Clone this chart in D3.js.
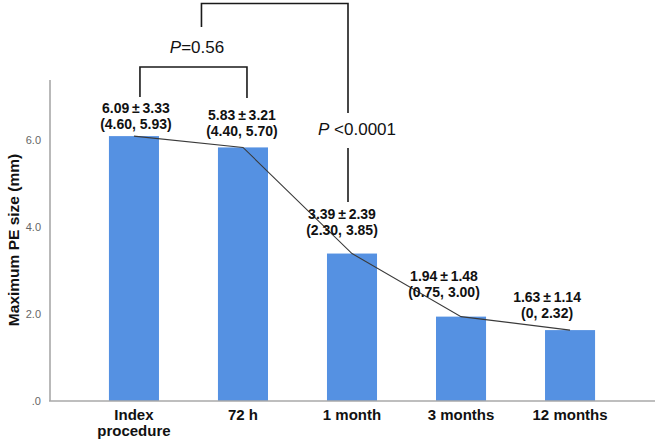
<!DOCTYPE html>
<html>
<head>
<meta charset="utf-8">
<script src="https://cdn.jsdelivr.net/npm/d3@7"></script>
<style>
  html, body { margin: 0; padding: 0; background: #fff; }
  svg { display: block; font-family: "Liberation Sans", Arial, sans-serif; }
</style>
</head>
<body>
<svg id="chart" width="661" height="446"></svg>
<script>
// ---- data ----
const categories = ["Index procedure", "72 h", "1 month", "3 months", "12 months"];
const means = [6.09, 5.83, 3.39, 1.94, 1.63];
const sds = ["3.33", "3.21", "2.39", "1.48", "1.14"];
const meanLabels = ["6.09", "5.83", "3.39", "1.94", "1.63"];
const iqrLabels = ["(4.60, 5.93)", "(4.40, 5.70)", "(2.30, 3.85)", "(0.75, 3.00)", "(0, 2.32)"];
const tickValues = [0, 2, 4, 6];
const tickLabels = [".0", "2.0", "4.0", "6.0"];
const yTitle = "Maximum PE size (mm)";
const pTexts = ["=0.56", "<0.0001"];

// ---- layout ----
const labelDx = [2, -1, -10, -17, -23];
const labelDy = [-23, -27, -35, -36, -28];

const svg = d3.select("#chart");
const x = d3.scaleBand().domain(categories).range([79.5, 624.5]).paddingInner(0.541).paddingOuter(0.27);
const y = d3.scaleLinear().domain([0, 7.38]).range([401, 80]);
const cx = c => x(c) + x.bandwidth() / 2;

// bars
svg.selectAll("rect.bar").data(categories).join("rect")
  .attr("class", "bar")
  .attr("x", d => x(d))
  .attr("width", x.bandwidth())
  .attr("y", (d, i) => y(means[i]))
  .attr("height", (d, i) => y(0) - y(means[i]))
  .attr("fill", "#5591e2");

// axes
svg.append("line").attr("x1", 50).attr("x2", 50).attr("y1", 80).attr("y2", y(0))
  .attr("stroke", "#a8a8a8").attr("stroke-width", 1.6);
svg.append("line").attr("x1", 49).attr("x2", 655).attr("y1", y(0)).attr("y2", y(0))
  .attr("stroke", "#a8a8a8").attr("stroke-width", 1.6);

// y ticks
svg.selectAll("text.ytick").data(tickValues).join("text")
  .attr("class", "ytick")
  .attr("x", 41).attr("y", d => y(d) + 4)
  .attr("text-anchor", "end")
  .attr("font-size", 11).attr("fill", "#666")
  .text((d, i) => tickLabels[i]);

// y title
svg.append("text")
  .attr("transform", "translate(19,240) rotate(-90)")
  .attr("text-anchor", "middle")
  .attr("font-size", 15.5).attr("font-weight", "bold").attr("fill", "#111")
  .text(yTitle);

// x labels
categories.forEach(c => {
  const words = c === "Index procedure" ? ["Index", "procedure"] : [c];
  const t = svg.append("text").attr("text-anchor", "middle")
    .attr("font-size", 15).attr("font-weight", "bold").attr("fill", "#111");
  words.forEach((w, k) => {
    t.append("tspan").attr("x", cx(c)).attr("y", 420 + k * 16).text(w);
  });
});

// trend line
const line = d3.line().x((d, i) => cx(categories[i])).y(d => y(d));
svg.append("path").datum(means).attr("d", line)
  .attr("fill", "none").attr("stroke", "#3a3a3a").attr("stroke-width", 1.1);

// value labels
categories.forEach((c, i) => {
  const lx = cx(c) + labelDx[i];
  const ly = y(means[i]) + labelDy[i];
  const t = svg.append("text").attr("text-anchor", "middle")
    .attr("font-size", 14).attr("font-weight", "bold").attr("fill", "#111");
  t.append("tspan").attr("x", lx).attr("y", ly).text(meanLabels[i] + "\u2009\u00b1\u2009" + sds[i]);
  t.append("tspan").attr("x", lx).attr("y", ly + 16).text(iqrLabels[i]);
});

// significance brackets
const bk = svg.append("g").attr("fill", "none").attr("stroke", "#1a1a1a").attr("stroke-width", 1.6);
const c0 = cx(categories[0]), c1 = cx(categories[1]), c2 = cx(categories[2]);
bk.append("path").attr("d", `M${c0 + 6},97 V67 H${c1 + 4} V98`);
bk.append("path").attr("d", `M${(c0 + c1) / 2 + 13},27 V3.5 H${c2 - 4} V113`);
bk.append("path").attr("d", `M${c2 - 4},148 V202`);

const p1 = svg.append("text").attr("x", 197).attr("y", 53).attr("text-anchor", "middle")
  .attr("font-size", 17).attr("fill", "#111");
p1.append("tspan").attr("font-style", "italic").text("P");
p1.append("tspan").text(pTexts[0]);

const p2 = svg.append("text").attr("x", 318).attr("y", 135).attr("text-anchor", "start")
  .attr("font-size", 17).attr("fill", "#111");
p2.append("tspan").attr("font-style", "italic").text("P");
p2.append("tspan").text(" " + pTexts[1]);
</script>
</body>
</html>
